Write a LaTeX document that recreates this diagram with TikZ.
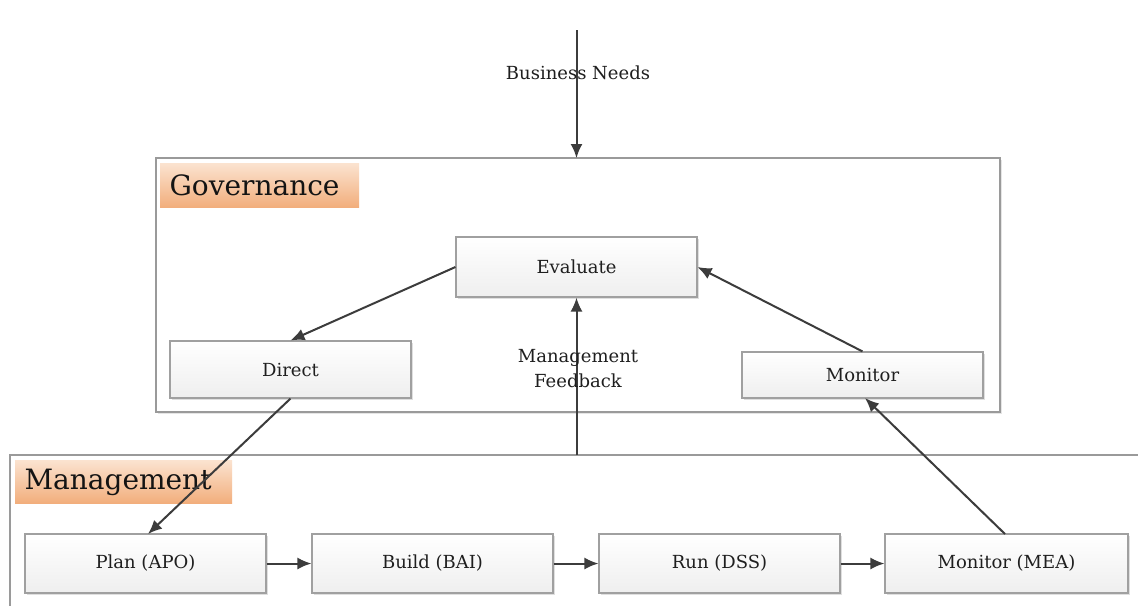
\documentclass[tikz,border=0pt]{standalone}
\usepackage{fontspec}
\setmainfont{DejaVu Serif}
\usetikzlibrary{shadows,arrows.meta}
\definecolor{framegray}{HTML}{9A9A9A}
\definecolor{boxgray}{HTML}{A0A0A0}
\definecolor{arrowgray}{HTML}{3C3C3C}
\definecolor{peach}{HTML}{FBE3D0}
\definecolor{orangebot}{HTML}{F2AE7C}
\tikzset{
  procbox/.style={draw=boxgray, line width=1.1pt, top color=white, bottom color=gray!13,
    minimum width=241pt, inner sep=0pt,
    font=\fontsize{18}{21}\selectfont, text=black!88,
    drop shadow={opacity=0.25, shadow xshift=2pt, shadow yshift=-2pt}},
  tagbox/.style={top color=peach, bottom color=orangebot, inner sep=0pt, anchor=north west},
  tagtext/.style={font=\fontsize{28}{31}\selectfont, text=black!92, anchor=west},
  frame/.style={draw=framegray, line width=1.2pt},
  flow/.style={draw=arrowgray, line width=2pt, -{Latex[length=14pt,width=12pt]}},
  lbl/.style={font=\fontsize{18}{25}\selectfont, text=black!88, align=center}
}
\begin{document}
\begin{tikzpicture}[x=1pt,y=-1pt]
\useasboundingbox[fill=white] (0,0) rectangle (1138,606);

% governance frame
\draw[frame, fill=white, drop shadow={opacity=0.2, shadow xshift=2pt, shadow yshift=-2pt}]
  (156,158) rectangle (1000,412);
\node[tagbox, minimum width=199pt, minimum height=44pt] (govtag) at (160,163) {};
\node[tagtext] (govtxt) at (166,185) {Governance};

% management frame (open to the right and below)
\draw[frame] (1138,455) -- (10,455) -- (10,606);
\node[tagbox, minimum width=217pt, minimum height=43pt] (mgttag) at (15,460) {};
\node[tagtext] (mgttxt) at (21,482) {Management};

% governance processes
\node[procbox, minimum height=60pt] (eval) at (576.5,267) {Evaluate};
\node[procbox, minimum height=57pt] (dir) at (290.5,369.5) {Direct};
\node[procbox, minimum height=46pt] (mon) at (862.5,375) {Monitor};

% management processes
\node[procbox, minimum height=59pt] (apo) at (145.5,563.5) {Plan (APO)};
\node[procbox, minimum height=59pt] (bai) at (432.5,563.5) {Build (BAI)};
\node[procbox, minimum height=59pt] (dss) at (719.5,563.5) {Run (DSS)};
\node[procbox, minimum height=59pt, minimum width=243pt] (mea) at (1006.5,563.5) {Monitor (MEA)};

% inputs
\coordinate (bn) at (576.5,30);
\coordinate (gtop) at (576.5,158);
\coordinate (fb) at (576.5,455);
\draw[flow] (bn) -- (gtop);
\node[lbl] (bnlbl) at (578,73) {Business Needs};

\draw[flow] (fb) -- (eval.south);
\node[lbl] (fblbl) at (578,369) {Management\\Feedback};

% governance cycle
\draw[flow] (eval.west) -- (dir.north);
\draw[flow] (mon.north) -- (eval.east);

% links between layers
\draw[flow] (dir.south) -- (148,534);
\draw[flow] (1005,534) -- (865,398);

% management chain
\draw[flow] (apo) -- (bai);
\draw[flow] (bai) -- (dss);
\draw[flow] (dss) -- (mea);
\end{tikzpicture}
\end{document}
